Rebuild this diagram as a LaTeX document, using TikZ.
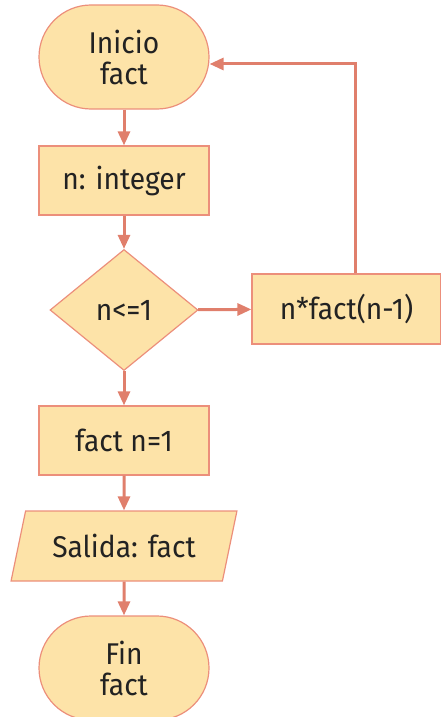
\documentclass[tikz,border=0pt]{standalone}
\usepackage{fontspec}
\setmainfont{Fira Sans}[FakeStretch=0.94]
\usetikzlibrary{shapes.geometric,arrows.meta}
\definecolor{boxfill}{HTML}{FDE3A8}
\definecolor{boxline}{HTML}{EC8F7B}
\definecolor{arrowc}{HTML}{E07F6C}
\definecolor{txt}{HTML}{222222}
\begin{document}
\begin{tikzpicture}[x=1pt,y=-1pt,
  base/.style={draw=boxline,fill=boxfill,line width=1.2pt,text=txt,font=\fontsize{30}{31}\selectfont,inner sep=0pt,align=center},
  term/.style={base,rectangle,rounded corners=52pt,minimum width=170pt,minimum height=104pt},
  proc/.style={base,rectangle,minimum width=170pt,minimum height=69pt},
  dec/.style={base,diamond,minimum width=148pt,minimum height=121pt},
  io/.style={base,trapezium,trapezium left angle=66,trapezium right angle=114,trapezium stretches=true,minimum width=226pt,minimum height=70pt},
  arr/.style={draw=arrowc,line width=3pt,-{Triangle[length=14pt,width=12pt]}}
]
\useasboundingbox (0,0) rectangle (441,717);
\node[term] (ini) at (124,57) {Inicio\\fact};
\node[proc] (int) at (124,180.5) {n: integer};
\node[dec] (cond) at (124,310) {n<=1};
\node[proc,minimum width=189pt,minimum height=70pt] (rec) at (346.5,309) {n*fact(n-1)};
\node[proc] (one) at (124,440.5) {fact n=1};
\node[io] (out) at (124,546) {Salida: fact};
\node[term] (fin) at (124,668) {Fin\\fact};
\coordinate (up) at (355,64);
\draw[arr] (ini) -- (int);
\draw[arr] (int) -- (cond);
\draw[arr] (cond) -- (rec);
\draw[arr] (cond) -- (one);
\draw[arr] (one) -- (out);
\draw[arr] (out) -- (fin);
\draw[arr] (rec.north -| up) -- (up) -- (ini.east |- up);
\end{tikzpicture}
\end{document}
